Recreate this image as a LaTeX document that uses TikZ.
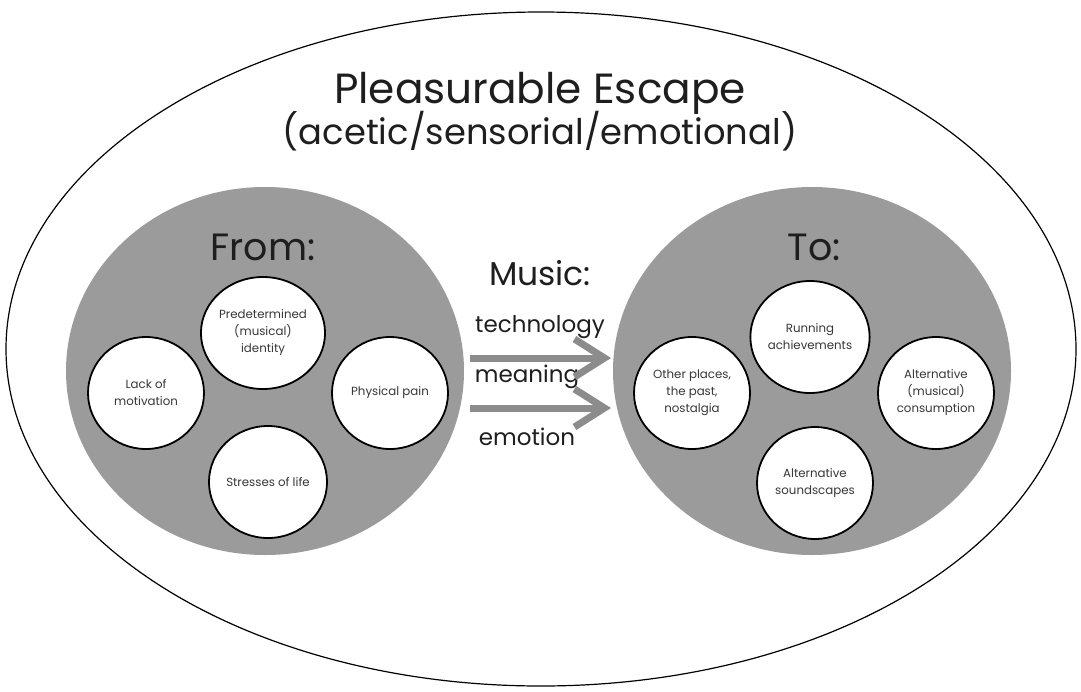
\documentclass[tikz,border=0pt]{standalone}
\usepackage{fontspec}
\setmainfont{Poppins}
\usetikzlibrary{shapes.geometric,arrows.meta}
\definecolor{discgrey}{RGB}{155,155,155}
\definecolor{arrowgrey}{RGB}{140,140,140}
\definecolor{inktext}{RGB}{30,30,30}
\definecolor{smalltext}{RGB}{55,55,55}
\begin{document}
\begin{tikzpicture}[x=1pt,y=-1pt,
  outer/.style={ellipse, draw=black, line width=1.2pt, minimum width=1070pt, minimum height=674pt, inner sep=0pt},
  disc/.style={ellipse, fill=discgrey, minimum width=398pt, minimum height=368pt, inner sep=0pt},
  bubble/.style={ellipse, draw=black, line width=1.8pt, fill=white, minimum width=116pt, minimum height=112pt, inner sep=0pt, align=center, text=smalltext, font=\fontsize{11.8}{17}\selectfont},
  head/.style={font=\fontsize{38}{40}\selectfont, text=inktext, anchor=base, inner sep=0pt},
  via/.style={font=\fontsize{23}{25}\selectfont, text=inktext, anchor=base, inner sep=0pt},
  flow/.style={draw=arrowgrey, line width=7pt, -{Straight Barb[length=30pt,width=38pt]}}
]
\useasboundingbox (0,0) rectangle (1081,691);
\node[outer] (whole) at (541,349) {};
\node[font=\fontsize{42.2}{45}\selectfont, text=inktext, anchor=base, inner sep=0pt] (title) at (540,103) {Pleasurable Escape};
\node[font=\fontsize{35.3}{37}\selectfont, text=inktext, anchor=base, inner sep=0pt] (subtitle) at (540,144) {(acetic/sensorial/emotional)};

\node[disc] (from) at (265,371) {};
\node[disc] (to) at (812,371) {};

\node[head] (fromlbl) at (263,260) {From:};
\node[head] (tolbl) at (814,260) {To:};

\node[bubble] (ident) at (263,333) {Predetermined\\(musical)\\identity};
\node[bubble] (motiv) at (146,393) {Lack of\\motivation};
\node[bubble] (pain) at (390,393) {Physical pain};
\node[bubble] (stress) at (268,482) {Stresses of life};

\node[bubble] (run) at (810,337) {Running\\achievements};
\node[bubble] (places) at (692,393) {Other places,\\the past,\\nostalgia};
\node[bubble] (consume) at (936,393) {Alternative\\(musical)\\consumption};
\node[bubble] (sound) at (815,483) {Alternative\\soundscapes};

\node[font=\fontsize{33}{35}\selectfont, text=inktext, anchor=base, inner sep=0pt] (music) at (540,285) {Music:};
\node[via] (tech) at (540,332) {technology};
\node[via] (mean) at (527,382) {meaning};
\node[via] (emo) at (527,445) {emotion};

\coordinate (a1s) at (470,358);
\coordinate (a1e) at (611,358);
\coordinate (a2s) at (470,408);
\coordinate (a2e) at (611,408);
\draw[flow] (a1s) -- (a1e);
\draw[flow] (a2s) -- (a2e);
\end{tikzpicture}
\end{document}
